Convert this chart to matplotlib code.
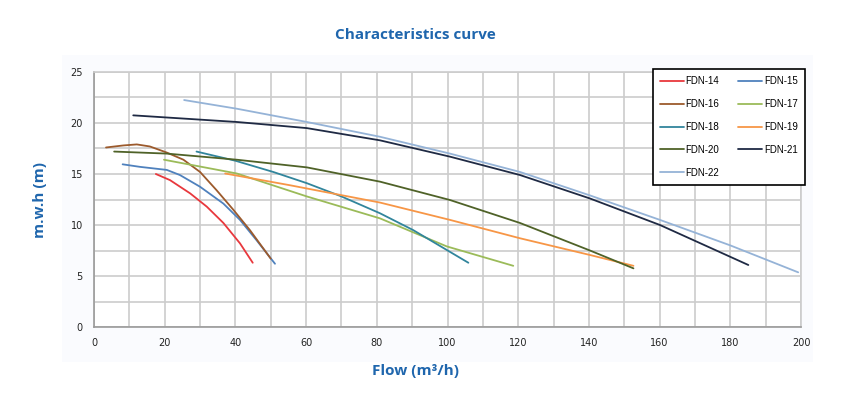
import matplotlib
matplotlib.use("Agg")
import matplotlib.pyplot as plt
from matplotlib.patches import Rectangle

# ---- data (flow m3/h, head m) ----
models = ["FDN-14", "FDN-15", "FDN-16", "FDN-17", "FDN-18", "FDN-19", "FDN-20", "FDN-21", "FDN-22"]

fdn14_q = [17.5, 21.5, 27.2, 31.9, 36.6, 41.3, 44.9]
fdn14_h = [15.0, 14.4, 13.1, 11.8, 10.2, 8.2, 6.3]

fdn15_q = [8.1, 13.0, 20.6, 24.3, 30.0, 36.6, 41.3, 46.0, 51.2]
fdn15_h = [15.95, 15.7, 15.4, 14.9, 13.75, 12.1, 10.5, 8.5, 6.2]

fdn16_q = [3.4, 8.3, 12.1, 15.8, 20.6, 25.3, 30.0, 34.7, 39.4, 44.1, 50.0]
fdn16_h = [17.6, 17.8, 17.9, 17.7, 17.1, 16.4, 15.2, 13.4, 11.5, 9.5, 6.7]

fdn17_q = [19.8, 40.4, 60.2, 80.9, 99.8, 118.6]
fdn17_h = [16.4, 15.05, 12.8, 10.65, 7.9, 6.0]

fdn18_q = [29.0, 40.0, 50.7, 60.2, 70.0, 80.9, 90.3, 99.8, 105.9]
fdn18_h = [17.2, 16.3, 15.2, 14.1, 12.8, 11.15, 9.5, 7.55, 6.3]

fdn19_q = [37.1, 55.4, 80.9, 100.7, 120.5, 140.3, 152.6]
fdn19_h = [15.05, 13.9, 12.2, 10.5, 8.7, 7.06, 6.0]

fdn20_q = [5.7, 20.6, 40.4, 60.2, 80.9, 100.7, 120.5, 140.3, 152.6]
fdn20_h = [17.2, 17.0, 16.4, 15.65, 14.25, 12.45, 10.2, 7.5, 5.75]

fdn21_q = [11.1, 40.4, 60.2, 80.9, 100.7, 120.5, 140.3, 160.1, 185.1]
fdn21_h = [20.75, 20.1, 19.5, 18.3, 16.7, 14.9, 12.6, 10.0, 6.08]

fdn22_q = [25.5, 40.4, 60.2, 80.9, 100.7, 120.5, 140.3, 160.1, 180.0, 199.2]
fdn22_h = [22.25, 21.4, 20.1, 18.65, 17.0, 15.2, 12.9, 10.5, 8.0, 5.36]

series_q = [fdn14_q, fdn15_q, fdn16_q, fdn17_q, fdn18_q, fdn19_q, fdn20_q, fdn21_q, fdn22_q]
series_h = [fdn14_h, fdn15_h, fdn16_h, fdn17_h, fdn18_h, fdn19_h, fdn20_h, fdn21_h, fdn22_h]

x_ticks = [0, 20, 40, 60, 80, 100, 120, 140, 160, 180, 200]
y_ticks = [0, 5, 10, 15, 20, 25]

colors = ["#e8383d", "#4f81bd", "#9c5a2c", "#9bbb59", "#31859c",
          "#f79646", "#4f6228", "#1f2a44", "#95b3d7"]

W, H = 846, 400
fig = plt.figure(figsize=(W / 100, H / 100), dpi=100)
fig.patch.set_facecolor("white")

# faint background panel
panel = Rectangle((62 / W, 1 - 362 / H), (813 - 62) / W, (362 - 55) / H,
                  transform=fig.transFigure, facecolor="#fafbfe",
                  edgecolor="none", zorder=-5)
fig.add_artist(panel)

ax = fig.add_axes([94 / W, 1 - 327 / H, (801 - 94) / W, (327 - 72) / H])
ax.set_zorder(2)
ax.set_facecolor("white")

lines = []
for name, q, h, c in zip(models, series_q, series_h, colors):
    ln, = ax.plot(q, h, color=c, lw=1.3, label=name, zorder=3,
                  solid_capstyle="round", solid_joinstyle="round")
    lines.append(ln)

ax.set_xlim(0, 200)
ax.set_ylim(0, 25)
ax.set_xticks(x_ticks)
ax.set_yticks(y_ticks)
ax.set_xticks(range(0, 201, 10), minor=True)
ax.set_yticks([2.5 * i for i in range(11)], minor=True)
ax.grid(True, which="both", color="#cccccc", lw=1.2)
ax.set_axisbelow(True)
ax.tick_params(which="both", length=0, labelsize=7, colors="#222222", pad=8)
for s in ax.spines.values():
    s.set_color("#cccccc")
    s.set_linewidth(1.2)
ax.spines["left"].set_color("#9a9a9a")
ax.spines["bottom"].set_color("#9a9a9a")

blue = "#1f66ad"
fig.text(415 / W, 1 - 35 / H, "Characteristics curve", ha="center", va="center",
         fontsize=11, fontweight="bold", color=blue, family="Open Sans")
fig.text(415 / W, 1 - 371 / H, "Flow (m³/h)", ha="center", va="center",
         fontsize=11, fontweight="bold", color=blue, family="Open Sans")
fig.text(40 / W, 1 - 200 / H, "m.w.h (m)", ha="center", va="center", rotation=90,
         fontsize=11, fontweight="bold", color=blue, family="Open Sans")

# row-major legend order (matplotlib fills column by column)
order = [0, 2, 4, 6, 8, 1, 3, 5, 7]
leg = ax.legend([lines[i] for i in order], [models[i] for i in order],
                ncol=2, loc="upper right", bbox_to_anchor=(805 / W, 1 - 69 / H),
                bbox_transform=fig.transFigure, frameon=True, fancybox=False,
                borderaxespad=0, handlelength=2.5, handletextpad=0.15,
                columnspacing=1.9, labelspacing=1.32, borderpad=0.75,
                prop={"family": "Liberation Sans", "size": 7})
leg.get_frame().set_edgecolor("black")
leg.get_frame().set_linewidth(1.2)
leg.get_frame().set_facecolor("white")
leg.get_frame().set_alpha(1)
leg.set_zorder(5)

fig.savefig("out.png", dpi=100)
